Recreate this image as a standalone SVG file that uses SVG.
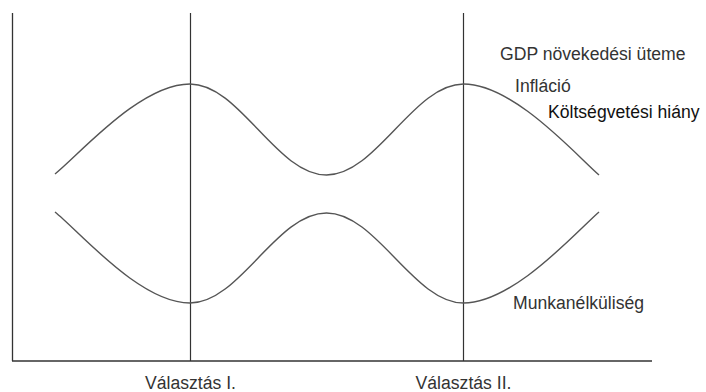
<svg xmlns="http://www.w3.org/2000/svg" width="706" height="392" viewBox="0 0 706 392">
<style>
.ax{stroke:#333;stroke-width:1.3;fill:none}
.vl{stroke:#333;stroke-width:1.2;fill:none}
.cv{stroke:#555;stroke-width:1.4;fill:none}
text{font-family:"Liberation Sans",Arial,sans-serif;font-size:17.6px;fill:#333}
</style>
<rect width="706" height="392" fill="#fff"/>
<g id="axes">
<line class="ax" x1="12.5" y1="13" x2="12.5" y2="361"/>
<line class="ax" x1="12" y1="361" x2="652" y2="361"/>
</g>
<g id="elections">
<line class="vl" x1="190.5" y1="13" x2="190.5" y2="361"/>
<line class="vl" x1="463.5" y1="13" x2="463.5" y2="361"/>
</g>
<g id="connectors">
<path id="upper" class="cv" d="M55,174 C80,154 140,84 190,84 C239.6,84 276.4,175 326.5,175 C376.3,175 413.7,84 463.5,84 C513.3,84 575,154 599,175"/>
<path id="lower" class="cv" d="M55,212 C80,232 140,303 190,303 C239.6,303 276.4,213 326.5,213 C376.3,213 413.7,303 463.5,303 C513.3,303 575,233 599,212"/>
</g>
<g id="labels">
<text x="500" y="60">GDP növekedési üteme</text>
<text x="515" y="92">Infláció</text>
<text x="548" y="118" style="fill:#111">Költségvetési hiány</text>
<text x="513" y="309">Munkanélküliség</text>
<text x="190.5" y="389" text-anchor="middle">Választás I.</text>
<text x="463.5" y="389" text-anchor="middle">Választás II.</text>
</g>
</svg>
